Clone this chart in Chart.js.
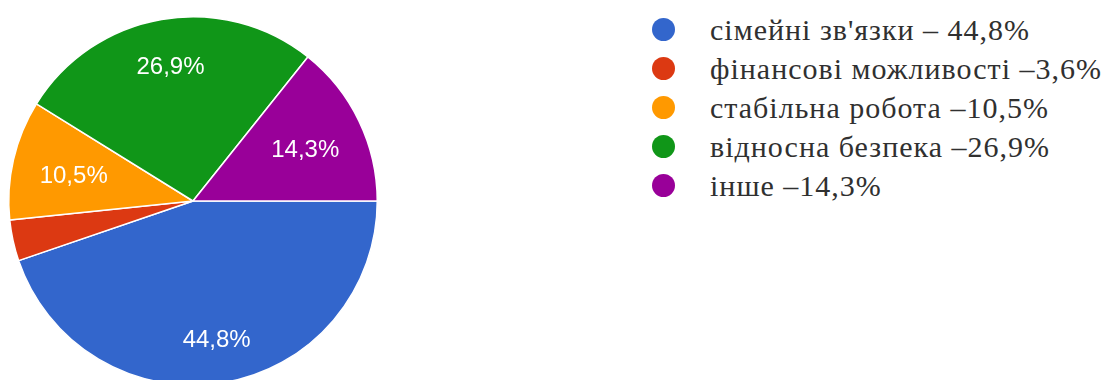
<!DOCTYPE html>
<html>
<head>
<meta charset="utf-8">
<script src="https://cdn.jsdelivr.net/npm/chart.js@4.4.1/dist/chart.umd.min.js"></script>
<style>
  html, body { margin: 0; padding: 0; background: #fff; overflow: hidden; }
  #wrap { position: relative; width: 1112px; height: 380px; overflow: hidden; }
  #pieBox { position: absolute; left: 0; top: 0; width: 400px; height: 402px; }
  #legend { position: absolute; left: 652px; top: 10px; margin: 0; padding: 0; list-style: none;
            font-family: 'Liberation Serif', 'Times New Roman', serif; font-size: 30px; letter-spacing: 1px; color: #303030; }
  #legend li { height: 39px; line-height: 39px; white-space: nowrap; display: flex; align-items: center; }
  #legend .dot { width: 23px; height: 23px; border-radius: 50%; margin-right: 35px; flex: none; }
</style>
</head>
<body>
<div id="wrap">
  <div id="pieBox"><canvas id="pieChart"></canvas></div>
  <ul id="legend"></ul>
</div>
<script>
const categories = ["сімейні зв'язки – 44,8%", 'фінансові можливості –3,6%', 'стабільна робота –10,5%', 'відносна безпека –26,9%', 'інше –14,3%'];
const shares = [44.8, 3.6, 10.5, 26.9, 14.3];
const colors = ['#3366CC', '#DC3912', '#FF9900', '#109618', '#990099'];

// percentage labels inside slices (no datalabels plugin offline)
const sliceLabels = {
  id: 'sliceLabels',
  afterDatasetsDraw(chart) {
    const { ctx } = chart;
    const meta = chart.getDatasetMeta(0);
    ctx.save();
    ctx.font = "24px 'Liberation Sans', Arial, sans-serif";
    ctx.fillStyle = '#fff';
    ctx.textAlign = 'center';
    ctx.textBaseline = 'middle';
    meta.data.forEach((arc, i) => {
      if (shares[i] < 5) return;
      const p = arc.getProps(['x', 'y', 'startAngle', 'endAngle', 'outerRadius'], true);
      const mid = (p.startAngle + p.endAngle) / 2;
      const d = p.outerRadius * (shares[i] > 20 ? 0.75 : 0.67);
      ctx.fillText(shares[i].toFixed(1).replace('.', ',') + '%', p.x + Math.cos(mid) * d + 1, p.y + Math.sin(mid) * d + 3);
    });
    ctx.restore();
  }
};

new Chart(document.getElementById('pieChart'), {
  type: 'pie',
  data: {
    labels: categories,
    datasets: [{ data: shares, backgroundColor: colors, borderColor: '#fff', borderWidth: 1.5 }]
  },
  options: {
    responsive: true, maintainAspectRatio: false, animation: false,
    rotation: 90,
    layout: { padding: { left: 8, top: 16, right: 22, bottom: 16 } },
    plugins: { legend: { display: false }, tooltip: { enabled: false } }
  },
  plugins: [sliceLabels]
});

const legend = document.getElementById('legend');
categories.forEach((c, i) => {
  const li = document.createElement('li');
  const dot = document.createElement('span');
  dot.className = 'dot';
  dot.style.background = colors[i];
  li.appendChild(dot);
  li.appendChild(document.createTextNode(c));
  legend.appendChild(li);
});
</script>
</body>
</html>
